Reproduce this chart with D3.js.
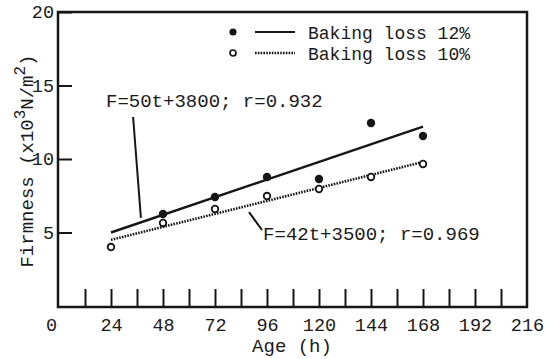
<!DOCTYPE html>
<html>
  <head>
    <script src="https://cdn.jsdelivr.net/npm/d3@7/dist/d3.min.js" charset="utf-8"></script>
    <style type="text/css">
    body { margin: 0; background: #fff; }
    text { font-family: "Liberation Mono", "DejaVu Sans Mono", monospace; fill: #1a1a1a; }
    </style>
  </head>
  <body>
  <script type="text/javascript">
  // values (firmness in 10^3 N/m^2, age in h)
  var ages12 = [48, 72, 96, 120, 144, 168];
  var firm12 = [6.26, 7.41, 8.78, 8.64, 12.45, 11.56];
  var ages10 = [24, 48, 72, 96, 120, 144, 168];
  var firm10 = [4.01, 5.65, 6.6, 7.48, 7.96, 8.78, 9.66];

  // fitted lines, as drawn
  var fitAges = [24, 168];
  var fit12 = [5.0, 12.2];
  var fit10 = [4.5, 9.8];

  var xLabels = [0, 24, 48, 72, 96, 120, 144, 168, 192, 216];
  var xMinor = d3.range(12, 216, 12);
  var yLabels = [5, 10, 15, 20];

  var legendNames = ["Baking loss 12%", "Baking loss 10%"];
  var notes = [
    {text: "F=50t+3800; r=0.932", at: [21.7, 13.54], from: [34.2, 12.86], to: [37.8, 5.99]},
    {text: "F=42t+3500; r=0.969", at: [94.2, 4.49], from: [87.7, 6.39], to: [93.7, 5.17]}
  ];

  var W = 546, H = 359;
  var svg = d3.select("body").append("svg").attr("width", W).attr("height", H);

  var x = d3.scaleLinear().domain([0, 216]).range([59, 527]);
  var y = d3.scaleLinear().domain([0, 20]).range([306, 12]);
  var ink = "#161616";

  // frame
  svg.append("rect")
    .attr("x", x(0) - 1).attr("y", y(20))
    .attr("width", x(216) - x(0) + 1).attr("height", y(0) - y(20) + 1)
    .attr("fill", "none").attr("stroke", ink).attr("stroke-width", 2.5);

  // x axis: minor inward ticks, labels every 24 h
  var xMin = svg.append("g").attr("transform", "translate(0," + (y(0) + 1) + ")")
    .call(d3.axisBottom(x).tickValues(xMinor).tickSizeInner(-18).tickSizeOuter(0).tickFormat(""));
  var xLab = svg.append("g").attr("transform", "translate(0," + (y(0) + 1) + ")")
    .call(d3.axisBottom(x).tickValues(xLabels).tickSize(0).tickPadding(11).tickFormat(d3.format("d")));

  var yAx = svg.append("g").attr("transform", "translate(" + (x(0) - 1) + ",0)")
    .call(d3.axisLeft(y).tickValues(yLabels).tickSizeInner(-14).tickSizeOuter(0).tickPadding(4));

  [xMin, xLab, yAx].forEach(function(g) {
    g.select(".domain").remove();
    g.selectAll("line").attr("stroke", ink).attr("stroke-width", 2);
    g.selectAll("text").attr("font-size", 18.5).attr("fill", "#1a1a1a");
  });
  xLab.selectAll("text").filter(function(d) { return d === 0; }).attr("dx", -8);

  // axis titles
  svg.append("text").attr("x", 292).attr("y", 352).attr("text-anchor", "middle")
    .attr("font-size", 19).text("Age (h)");

  var yt = svg.append("text").attr("transform", "translate(33,161) rotate(-90)")
    .attr("text-anchor", "middle").attr("font-size", 19);
  yt.append("tspan").text("Firmness (x10");
  yt.append("tspan").attr("dy", -8).attr("font-size", 16).text("3");
  yt.append("tspan").attr("dy", 8).text("N/m");
  yt.append("tspan").attr("dy", -8).attr("font-size", 16).text("2");
  yt.append("tspan").attr("dy", 8).text(")");

  // fitted lines
  var line = d3.line().x(function(d) { return x(d[0]); }).y(function(d) { return y(d[1]); });
  svg.append("path").datum(d3.zip(fitAges, fit12)).attr("d", line)
    .attr("fill", "none").attr("stroke", ink).attr("stroke-width", 2.4);
  svg.append("path").datum(d3.zip(fitAges, fit10)).attr("d", line)
    .attr("fill", "none").attr("stroke", ink).attr("stroke-width", 2.6)
    .attr("stroke-dasharray", "1.6,1.2");

  // points
  svg.selectAll("circle.p12").data(d3.zip(ages12, firm12)).enter().append("circle")
    .attr("class", "p12").attr("cx", function(d) { return x(d[0]); })
    .attr("cy", function(d) { return y(d[1]); }).attr("r", 4.2).attr("fill", ink);
  svg.selectAll("circle.p10").data(d3.zip(ages10, firm10)).enter().append("circle")
    .attr("class", "p10").attr("cx", function(d) { return x(d[0]); })
    .attr("cy", function(d) { return y(d[1]); }).attr("r", 3.3)
    .attr("fill", "#fff").attr("stroke", ink).attr("stroke-width", 1.8);

  // legend
  var lg = svg.append("g").attr("transform", "translate(233,32)");
  lg.append("circle").attr("cx", 0).attr("cy", 0).attr("r", 3.6).attr("fill", ink);
  lg.append("line").attr("x1", 22).attr("x2", 62).attr("y1", 0).attr("y2", 0)
    .attr("stroke", ink).attr("stroke-width", 2);
  lg.append("circle").attr("cx", 0).attr("cy", 21).attr("r", 3).attr("fill", "#fff")
    .attr("stroke", ink).attr("stroke-width", 1.7);
  lg.append("line").attr("x1", 22).attr("x2", 62).attr("y1", 21).attr("y2", 21)
    .attr("stroke", ink).attr("stroke-width", 2.4).attr("stroke-dasharray", "1.6,1.2");
  lg.selectAll("text").data(legendNames).enter().append("text")
    .attr("x", 75).attr("y", function(d, i) { return 7 + i * 21; })
    .attr("font-size", 18).text(function(d) { return d; });

  // equation annotations
  notes.forEach(function(n) {
    svg.append("text").attr("x", x(n.at[0])).attr("y", y(n.at[1]))
      .attr("font-size", 19).text(n.text);
    svg.append("line")
      .attr("x1", x(n.from[0])).attr("y1", y(n.from[1]))
      .attr("x2", x(n.to[0])).attr("y2", y(n.to[1]))
      .attr("stroke", ink).attr("stroke-width", 2);
  });
  </script>
  </body>
</html>
